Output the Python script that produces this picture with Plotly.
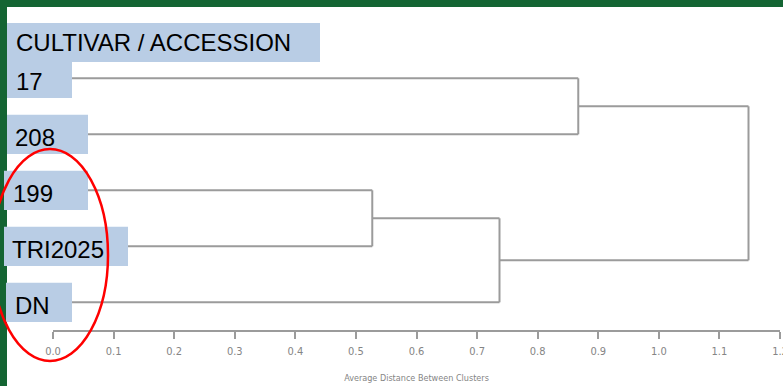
import plotly.graph_objects as go

# ---- data ----
leaf_labels = ["17", "208", "199", "TRI2025", "DN"]
header_label = "CULTIVAR / ACCESSION"
axis_title = "Average Distance Between Clusters"
# agglomeration steps: nodes 0-4 are the leaves, node 5+k is the k-th merge
merge_left = [2, 5, 0, 7]
merge_right = [3, 4, 1, 6]
merge_height = [0.527, 0.737, 0.867, 1.148]

# ---- build dendrogram segments through the data axes ----
node_x = [0.0] * len(leaf_labels)
node_y = [float(i) for i in range(len(leaf_labels))]
seg_x, seg_y = [], []
for l, r, h in zip(merge_left, merge_right, merge_height):
    for c in (l, r):
        seg_x += [node_x[c], h, None]
        seg_y += [node_y[c], node_y[c], None]
    seg_x += [h, h, None]
    seg_y += [node_y[l], node_y[r], None]
    node_x.append(h)
    node_y.append((node_y[l] + node_y[r]) / 2)

W, H = 783, 386
LINE = "#9b9b9b"
BOX = "#B9CDE5"
GREEN = "#146533"
SMALL_FONT = "DejaVu Sans Condensed, Liberation Sans Narrow, DejaVu Sans"

fig = go.Figure()
fig.add_trace(go.Scatter(x=seg_x, y=seg_y, mode="lines",
                         line=dict(color=LINE, width=2),
                         hoverinfo="skip", showlegend=False))

shapes = []
annotations = []

def px(v):
    return v / W

# label boxes (pixel extents, styling only)
box_left_px = [7, 7, 4, 4, 6]
box_right_px = [72, 88, 88, 128, 72]
text_left_px = [14, 13, 11, 10, 13]
half = 0.35
for i, lab in enumerate(leaf_labels):
    shapes.append(dict(type="rect", xref="paper", yref="y",
                       x0=px(box_left_px[i]), x1=px(box_right_px[i]),
                       y0=i - half, y1=i + half,
                       fillcolor=BOX, line=dict(width=0), layer="above"))
    annotations.append(dict(text=lab, xref="paper", yref="y",
                            x=px(text_left_px[i]), y=i + 0.06,
                            xanchor="left", yanchor="middle", showarrow=False,
                            font=dict(family="Liberation Sans, Arial", size=24, color="#000")))

# header box
shapes.append(dict(type="rect", xref="paper", yref="paper",
                   x0=px(7), x1=px(320), y0=1 - 62 / H, y1=1 - 23 / H,
                   fillcolor=BOX, line=dict(width=0), layer="above"))
annotations.append(dict(text=header_label, xref="paper", yref="paper",
                        x=px(14), y=1 - 42.5 / H, xanchor="left", yanchor="middle",
                        showarrow=False,
                        font=dict(family="Liberation Sans, Arial", size=24, color="#000")))

# green frame
shapes.append(dict(type="rect", xref="paper", yref="paper", x0=0, x1=px(7), y0=0, y1=1,
                   fillcolor=GREEN, line=dict(width=0), layer="below"))
shapes.append(dict(type="rect", xref="paper", yref="paper", x0=0, x1=1, y0=1 - 7 / H, y1=1,
                   fillcolor=GREEN, line=dict(width=0), layer="below"))

# red ellipse highlight
shapes.append(dict(type="circle", xref="paper", yref="paper",
                   x0=px(-8), x1=px(108), y0=1 - 361 / H, y1=1 - 149 / H,
                   line=dict(color="#FF0000", width=2.5), layer="above"))

fig.update_layout(
    width=W, height=H,
    margin=dict(l=0, r=0, t=0, b=0),
    paper_bgcolor="white", plot_bgcolor="white",
    shapes=shapes, annotations=annotations,
    xaxis=dict(domain=[53 / W, 780 / W], range=[0, 1.2], dtick=0.1, tick0=0,
               tickformat=".1f", showgrid=False, zeroline=False,
               showline=True, linecolor=LINE, linewidth=1.5,
               ticks="outside", ticklen=7, tickcolor=LINE, tickwidth=1.5,
               ticklabeloverflow="allow", ticklabelstandoff=3,
               tickfont=dict(family=SMALL_FONT, size=11, color="#858585"),
               title=dict(text=axis_title, standoff=18,
                          font=dict(family=SMALL_FONT, size=9, color="#858585")),
               automargin=False, fixedrange=True),
    yaxis=dict(domain=[(H - 330) / H, 1], range=[(330 - 78.3) / 56, -78.3 / 56],
               visible=False, automargin=False, fixedrange=True),
)

fig.write_html("out.html", config={"displayModeBar": False},
               post_script="document.body.style.margin='0';document.body.style.overflow='hidden';")
